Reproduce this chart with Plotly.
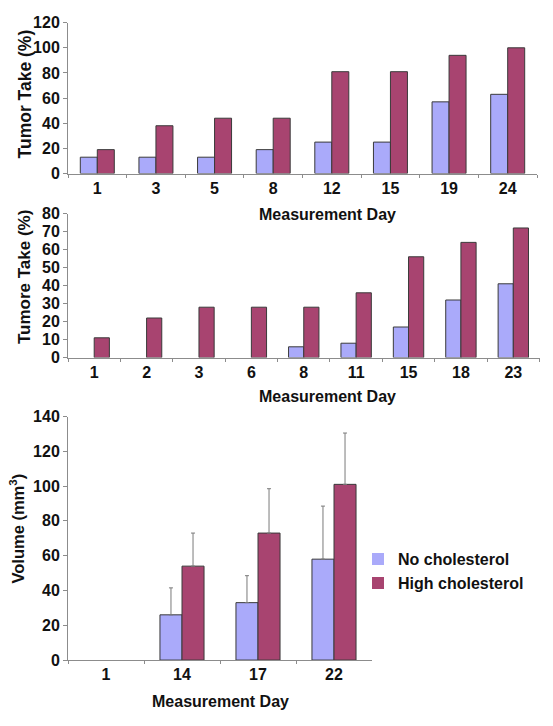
import plotly.graph_objects as go

# ---------------- data ----------------
days_top = ["1", "3", "5", "8", "12", "15", "19", "24"]
take_top_no = [13, 13, 13, 19, 25, 25, 57, 63]
take_top_high = [19, 38, 44, 44, 81, 81, 94, 100]

days_mid = ["1", "2", "3", "6", "8", "11", "15", "18", "23"]
take_mid_no = [0, 0, 0, 0, 6, 8, 17, 32, 41]
take_mid_high = [11, 22, 28, 28, 28, 36, 56, 64, 72]

days_bot = ["1", "14", "17", "22"]
vol_no = [None, 26, 33, 58]          # day 1: no measurable tumour
vol_no_err = [None, 15.5, 15.5, 30.5]
vol_high = [None, 54, 73, 101]
vol_high_err = [None, 19, 25.5, 29.5]

series_names = ["No cholesterol", "High cholesterol"]
# --------------------------------------

W, H = 553, 726
BLUE = "#AAAAFA"
RED = "#A84470"
EDGE = "#3a3a3a"
AXIS = "#8c8c8c"
FONT = "Liberation Sans, Arial, sans-serif"
TXT = "#111111"


def px(v):
    return v / W


def py(v):
    return 1 - v / H


def bar_marker(color, values):
    # no outline for empty (zero) bars
    return dict(color=color, line=dict(color=EDGE, width=[0 if not v else 1 for v in values]))


def err_bars(errs):
    return dict(type="data", symmetric=False, array=errs,
                arrayminus=[None if e is None else 0 for e in errs],
                color="#7a7a7a", thickness=1, width=2)


fig = go.Figure()

fig.add_trace(go.Bar(x=days_top, y=take_top_no, name=series_names[0], marker=bar_marker(BLUE, take_top_no),
                     xaxis="x", yaxis="y", showlegend=False, legendgroup="no"))
fig.add_trace(go.Bar(x=days_top, y=take_top_high, name=series_names[1], marker=bar_marker(RED, take_top_high),
                     xaxis="x", yaxis="y", showlegend=False, legendgroup="high"))

fig.add_trace(go.Bar(x=days_mid, y=take_mid_no, name=series_names[0], marker=bar_marker(BLUE, take_mid_no),
                     xaxis="x2", yaxis="y2", showlegend=False, legendgroup="no"))
fig.add_trace(go.Bar(x=days_mid, y=take_mid_high, name=series_names[1], marker=bar_marker(RED, take_mid_high),
                     xaxis="x2", yaxis="y2", showlegend=False, legendgroup="high"))

fig.add_trace(go.Bar(x=days_bot, y=vol_no, name=series_names[0], marker=bar_marker(BLUE, vol_no),
                     error_y=err_bars(vol_no_err),
                     xaxis="x3", yaxis="y3", showlegend=True, legendgroup="no"))
fig.add_trace(go.Bar(x=days_bot, y=vol_high, name=series_names[1], marker=bar_marker(RED, vol_high),
                     error_y=err_bars(vol_high_err),
                     xaxis="x3", yaxis="y3", showlegend=True, legendgroup="high"))

tickfont = dict(family=FONT, size=16, color=TXT, weight="bold")


def xax(domain, anchor, cats):
    return dict(domain=domain, anchor=anchor, type="category", categoryorder="array", categoryarray=cats,
                range=[-0.5, len(cats) - 0.5], showline=True, linecolor=AXIS, linewidth=1,
                ticks="outside", tickson="boundaries", ticklen=3, tickcolor=AXIS, showgrid=False,
                zeroline=False, tickfont=tickfont, fixedrange=True)


def yax(domain, anchor, rng, dtick):
    return dict(domain=domain, anchor=anchor, range=rng, dtick=dtick, showline=True, linecolor=AXIS,
                linewidth=1, ticks="outside", ticklen=4, tickcolor=AXIS, showgrid=False, zeroline=False,
                tickfont=tickfont, fixedrange=True)


fig.update_layout(
    width=W, height=H,
    margin=dict(l=0, r=0, t=0, b=0),
    paper_bgcolor="white", plot_bgcolor="white",
    barmode="group", bargap=0.42, bargroupgap=0,
    font=dict(family=FONT, color=TXT),
    xaxis=xax([px(68), px(537)], "y", days_top),
    yaxis=yax([py(169.5), py(15)], "x", [0, 120], 20),
    xaxis2=xax([px(68), px(539.5)], "y2", days_mid),
    yaxis2=yax([py(358), py(210.5)], "x2", [0, 80], 10),
    xaxis3=xax([px(68), px(372)], "y3", days_bot),
    yaxis3=yax([py(667.7), py(418.3)], "x3", [0, 140], 20),
    legend=dict(x=px(358), y=py(547), xanchor="left", yanchor="top",
                font=dict(family=FONT, size=16, color=TXT, weight="bold"),
                bgcolor="rgba(0,0,0,0)", borderwidth=0, tracegroupgap=0, itemwidth=30),
)

title_font = dict(family=FONT, size=16, color=TXT, weight="bold")

annos = [
    dict(text="Measurement Day", x=px(327), y=py(211.5), font=title_font),
    dict(text="Measurement Day", x=px(327), y=py(398.3), font=title_font),
    dict(text="Measurement Day", x=px(220), y=py(710), font=title_font),
    dict(text="Tumor Take (%)", x=px(24.5), y=py(88), textangle=-90,
         font=dict(family=FONT, size=17.5, color=TXT, weight="bold")),
    dict(text="Tumore Take (%)", x=px(24), y=py(275.5), textangle=-90,
         font=dict(family=FONT, size=17, color=TXT, weight="bold")),
    dict(text="Volume (mm<sup>3</sup>)", x=px(17), y=py(533), textangle=-90,
         font=dict(family=FONT, size=16.5, color=TXT, weight="bold")),
]
for a in annos:
    fig.add_annotation(xref="paper", yref="paper", showarrow=False, xanchor="center", yanchor="middle", **a)

page_fix = (
    "var h=document.documentElement, b=document.body;"
    "h.style.margin='0'; h.style.padding='0'; h.style.overflow='hidden'; h.style.height='726px';"
    "b.style.margin='0'; b.style.padding='0'; b.style.overflow='hidden'; b.style.height='726px';"
)

fig.write_html("out.html", config={"displayModeBar": False}, post_script=page_fix)
